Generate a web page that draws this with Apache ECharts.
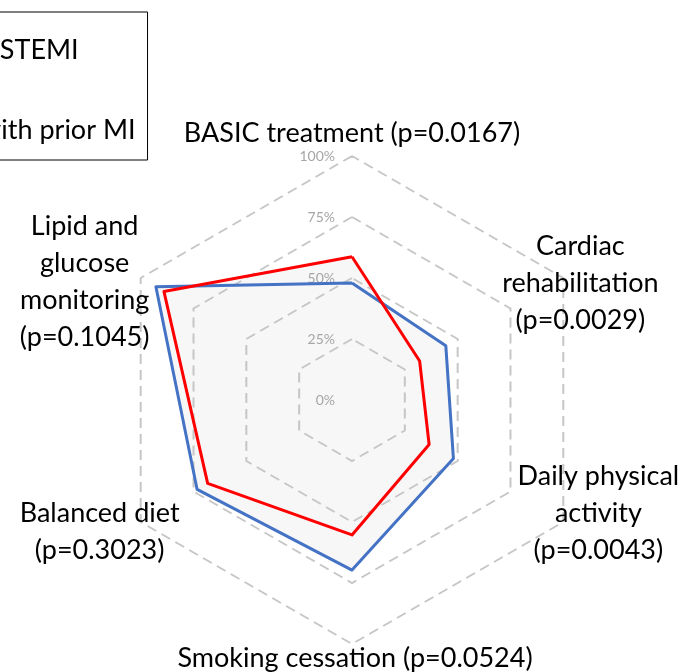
<!DOCTYPE html>
<html>
<head>
<meta charset="utf-8">
<script src="https://cdn.jsdelivr.net/npm/echarts@6/dist/echarts.min.js"></script>
<style>
  html, body { margin: 0; padding: 0; background: #fff; }
  #chart { width: 696px; height: 672px; }
</style>
</head>
<body>
<div id="chart"></div>
<script>
// indicator names, counterclockwise from the top
const indicatorNames = [
  'BASIC treatment (p=0.0167)',
  'Lipid and\nglucose\nmonitoring\n(p=0.1045)',
  'Balanced diet\n(p=0.3023)',
  'Smoking cessation (p=0.0524)',
  'Daily physical\nactivity\n(p=0.0043)',
  'Cardiac\nrehabilitation\n(p=0.0029)'
]
const seriesNames = ['First-time STEMI', 'Patients with prior MI']
const firstStemi = [48, 92.8, 73.3, 69.7, 48, 44.4]
const priorMi = [58.7, 89, 68.3, 55.3, 36.5, 32]
const tickValues = [0, 25, 50, 75, 100]

const FONT = 'Lato, "Noto Sans", sans-serif'

// per-label nudges [top, right, bottom, left] so the names sit like the original
const namePads = [
  [4, 0, 6, 0],
  [20, 74, -10, 0],
  [4, 44, 6, 0],
  [-3, 0, 13, 6],
  [-15, 0, 25, 32],
  [21, 4, -11, 0]
]

let rich = {}
namePads.forEach((p, i) => {
  rich['n' + i] = { fontSize: 27, fontFamily: FONT, color: '#000', padding: p, align: 'center' }
})

let myChart = echarts.init(document.getElementById('chart'))

let option = {
  animation: false,
  backgroundColor: '#fff',
  legend: {
    orient: 'vertical',
    left: -163,
    top: 12,
    padding: [23, 12, 15, 10],
    itemGap: 50,
    itemWidth: 25,
    itemHeight: 14,
    borderColor: '#000',
    borderWidth: 1,
    data: seriesNames,
    textStyle: { fontSize: 27, fontFamily: FONT, color: '#000', lineHeight: 30 }
  },
  radar: {
    z: 2,
    center: [352, 400],
    radius: 244,
    shape: 'polygon',
    splitNumber: tickValues.length - 1,
    nameGap: 22,
    indicator: indicatorNames.map((n, i) => ({
      name: n,
      min: tickValues[0],
      max: tickValues[tickValues.length - 1],
      axisLabel: { show: i === 0 }
    })),
    axisName: {
      align: 'center',
      verticalAlign: 'middle',
      formatter: (value) => {
        const idx = indicatorNames.indexOf(value)
        return value.split('\n').map(l => '{n' + idx + '|' + l + '}').join('\n')
      },
      rich: rich
    },
    axisLine: { show: false },
    axisTick: { show: false },
    splitArea: { show: false },
    splitLine: {
      lineStyle: { color: '#c6c6c6', width: 2, type: [10, 6] }
    },
    axisLabel: {
      show: true,
      margin: 17,
      color: '#a6a6a6',
      fontSize: 14,
      fontFamily: FONT,
      formatter: '{value}%'
    }
  },
  series: [
    {
      // light grey fill under both outlines
      type: 'radar',
      z: 1,
      silent: true,
      symbol: 'none',
      lineStyle: { width: 0, opacity: 0 },
      areaStyle: { color: '#f7f7f7', opacity: 1 },
      data: [
        { name: 'fill-a', value: firstStemi },
        { name: 'fill-b', value: priorMi }
      ]
    },
    {
      type: 'radar',
      z: 3,
      symbol: 'none',
      data: [
        { name: seriesNames[0], value: firstStemi, itemStyle: { color: '#4472C4' }, lineStyle: { color: '#4472C4', width: 3 } },
        { name: seriesNames[1], value: priorMi, itemStyle: { color: '#FF0000' }, lineStyle: { color: '#FF0000', width: 3 } }
      ]
    }
  ]
}
myChart.setOption(option)
</script>
</body>
</html>
